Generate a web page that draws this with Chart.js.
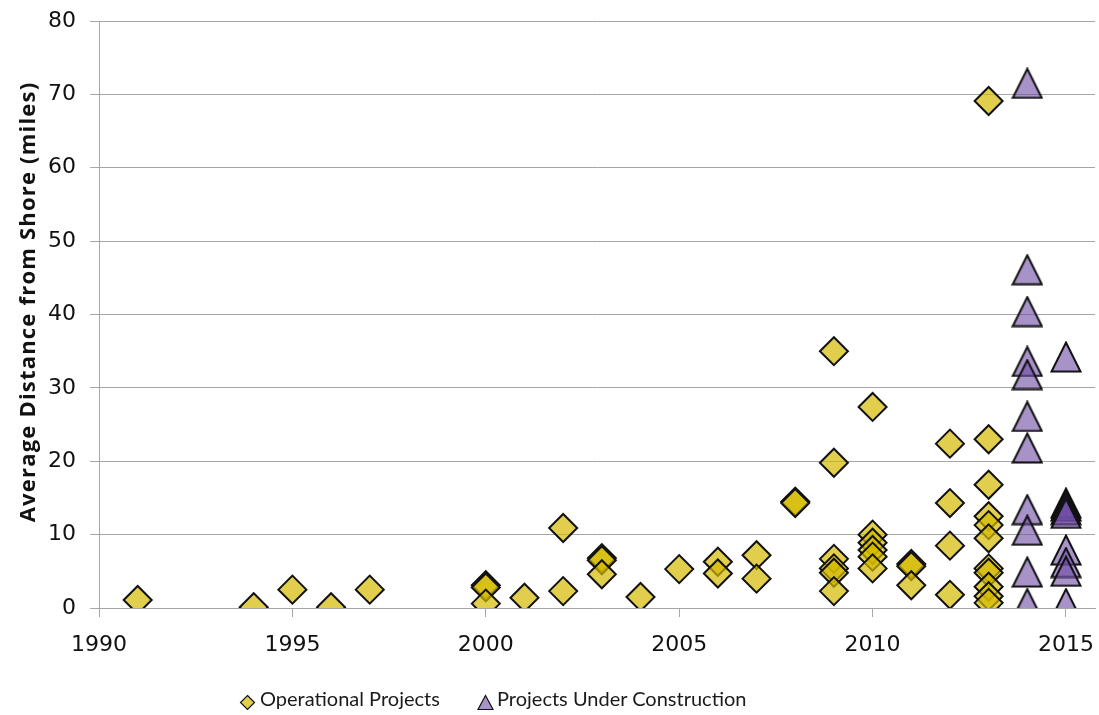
<!DOCTYPE html>
<html>
<head>
<meta charset="utf-8">
<script src="https://cdn.jsdelivr.net/npm/chart.js@4.4.1/dist/chart.umd.min.js"></script>
<style>
  html, body { margin: 0; padding: 0; background: #fff; overflow: hidden; }
  #wrap { position: relative; width: 1099px; height: 715px; }
  canvas { display: block; }
  .lg { position: absolute; font-family: Lato, sans-serif; font-size: 20px; color: #1a1a1a; line-height: 26px; white-space: nowrap; }
  .mk { position: absolute; }
  #ytitle { position: absolute; left: 26px; top: 302px; width: 480px; margin-left: -240px; text-align: center;
    transform: translateY(-50%) rotate(-90deg); font-family: 'Open Sans', sans-serif; font-weight: bold;
    font-size: 22px; letter-spacing: 1.2px; line-height: 24px; color: #111; white-space: nowrap; }
</style>
</head>
<body>
<div id="wrap">
  <canvas id="chart" width="1099" height="715"></canvas>
  <div id="ytitle">Average Distance from Shore (miles)</div>
  <svg class="mk" style="left:239px;top:694px" width="17" height="17"><polygon points="8.5,1.5 15.5,8.5 8.5,15.5 1.5,8.5" fill="rgba(212,185,0,0.7)" stroke="#111" stroke-width="1.2"/></svg>
  <div class="lg" style="left:260px;top:685px">Operational Projects</div>
  <svg class="mk" style="left:477px;top:694px" width="17" height="17"><polygon points="8.5,1.5 16,15.5 1,15.5" fill="rgba(110,75,165,0.6)" stroke="#111" stroke-width="1.2"/></svg>
  <div class="lg" style="left:497px;top:685px">Projects Under Construction</div>
</div>
<script>
// operational wind projects: commissioning year / avg distance (miles)
const opYears = [1991, 1994, 1995, 1996, 1997,
  2000, 2000, 2000, 2001, 2002, 2002, 2003, 2003, 2003, 2004, 2005,
  2006, 2006, 2007, 2007, 2008, 2008,
  2009, 2009, 2009, 2009, 2009, 2009,
  2010, 2010, 2010, 2010, 2010, 2010,
  2011, 2011, 2011, 2012, 2012, 2012, 2012,
  2013, 2013, 2013, 2013, 2013, 2013, 2013, 2013, 2013, 2013, 2013];
const opMiles = [1.1, 0.1, 2.5, 0.1, 2.5,
  3.1, 2.8, 0.6, 1.4, 10.9, 2.3, 6.8, 6.5, 4.6, 1.5, 5.3,
  6.3, 4.7, 7.2, 4.0, 14.5, 14.3,
  35.0, 19.8, 6.7, 5.4, 4.8, 2.3,
  27.4, 10.0, 8.9, 7.9, 7.0, 5.4,
  6.0, 5.7, 3.1, 22.4, 14.3, 8.5, 1.8,
  69.1, 23.0, 16.8, 12.5, 11.3, 9.5, 5.4, 4.8, 2.9, 1.6, 0.7];

// projects under construction
const ucYears = [2014, 2014, 2014, 2014, 2014, 2014, 2014, 2014, 2014, 2014, 2014,
  2015, 2015, 2015, 2015, 2015, 2015, 2015, 2015, 2015];
const ucMiles = [71.5, 46.1, 40.4, 33.6, 31.8, 26.1, 21.8, 13.4, 10.6, 4.9, 0.6,
  34.2, 14.3, 13.9, 13.4, 12.9, 7.9, 6.2, 5.0, 0.6];

const xTicks = [1990, 1995, 2000, 2005, 2010, 2015];

// triangle marker drawn so its bounding box is centred on the point (like Excel)
function triangleMarker() {
  const c = document.createElement('canvas');
  c.width = 32; c.height = 32;
  const g = c.getContext('2d');
  g.beginPath();
  g.moveTo(16, 1.5);
  g.lineTo(30.5, 30.5);
  g.lineTo(1.5, 30.5);
  g.closePath();
  g.fillStyle = 'rgba(110,75,165,0.6)';
  g.fill();
  g.lineWidth = 2;
  g.lineJoin = 'miter';
  g.strokeStyle = '#111';
  g.stroke();
  return c;
}

const gridGray = '#a6a6a6';
const tickFont = { family: 'DejaVu Sans', size: 22 };

new Chart(document.getElementById('chart'), {
  type: 'scatter',
  data: {
    datasets: [
      {
        label: 'Operational Projects',
        data: opYears.map((x, i) => ({ x: x, y: opMiles[i] })),
        pointStyle: 'rectRot',
        pointRadius: 14,
        pointHoverRadius: 14,
        backgroundColor: 'rgba(212,185,0,0.7)',
        borderColor: '#111',
        borderWidth: 2
      },
      {
        label: 'Projects Under Construction',
        data: ucYears.map((x, i) => ({ x: x, y: ucMiles[i] })),
        pointStyle: triangleMarker(),
        pointRadius: 16,
        pointHoverRadius: 16
      }
    ]
  },
  options: {
    responsive: false,
    animation: false,
    layout: { autoPadding: false, padding: { top: 21, right: 4, bottom: 62, left: 0 } },
    plugins: {
      legend: { display: false },
      tooltip: { enabled: false }
    },
    scales: {
      x: {
        type: 'linear',
        min: 1990,
        max: 2015.75,
        afterBuildTicks: s => { s.ticks = xTicks.map(v => ({ value: v })); },
        afterFit: s => { s.height = 45; s.paddingLeft = 0; s.paddingRight = 0; },
        ticks: {
          font: tickFont,
          color: '#111',
          padding: 15,
          maxRotation: 0,
          callback: v => String(v)
        },
        grid: { drawOnChartArea: false, drawTicks: true, tickLength: 9, color: gridGray },
        border: { color: gridGray }
      },
      y: {
        min: 0,
        max: 80,
        afterFit: s => { s.width = 99; s.paddingTop = 0; s.paddingBottom = 0; },
        ticks: { stepSize: 10, font: tickFont, color: '#111', padding: 14 },
        grid: { color: gridGray, tickLength: 9 },
        border: { color: gridGray }
      }
    }
  }
});
</script>
</body>
</html>
